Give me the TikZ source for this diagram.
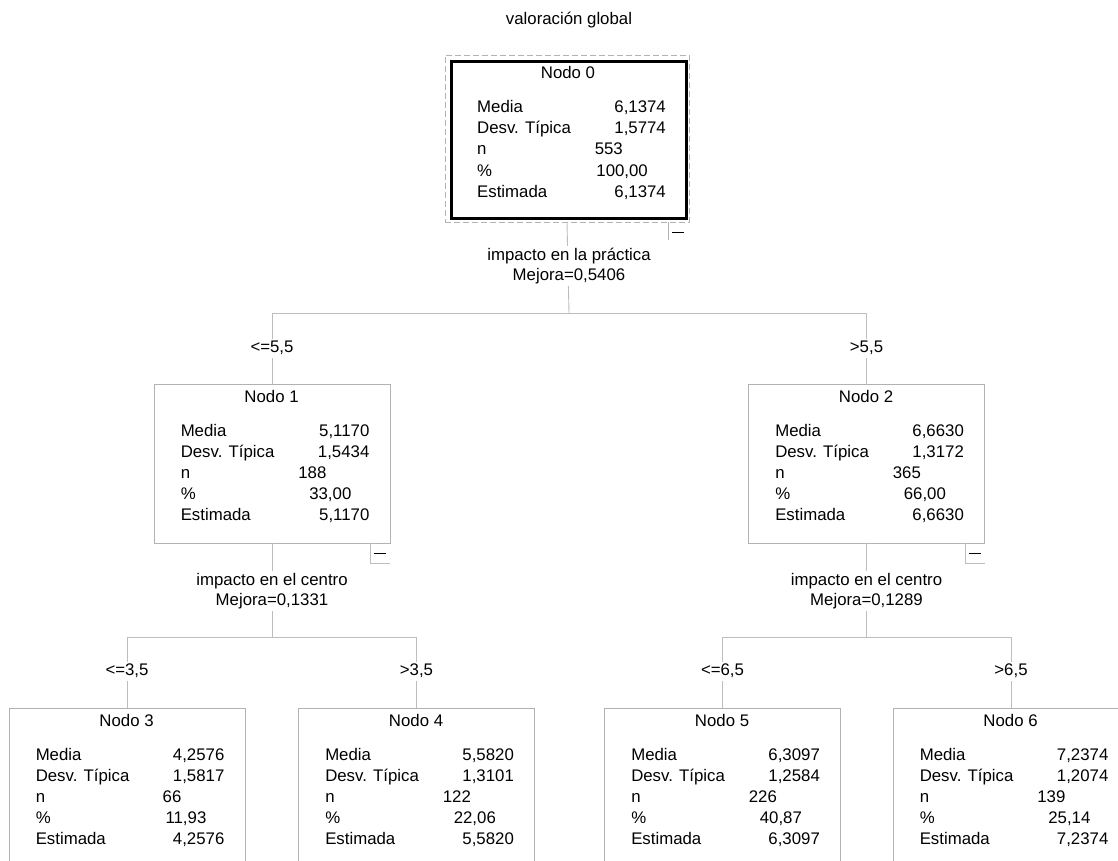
\documentclass[tikz,border=0pt]{standalone}
\usepackage{fontspec}
\setmainfont{Liberation Sans}
\usetikzlibrary{positioning}

\definecolor{edgegray}{gray}{0.74}
\definecolor{boxgray}{gray}{0.70}

\tikzset{
  box/.style={draw=boxgray, line width=0.9pt, minimum width=236pt, minimum height=159pt, inner sep=0pt},
  rootbox/.style={draw=black, line width=3pt, minimum width=235pt, minimum height=157pt, inner sep=0pt},
  focusbox/.style={draw=boxgray, dash pattern=on 6pt off 3pt, line width=0.8pt, minimum width=244pt, minimum height=167pt, inner sep=0pt},
  edge/.style={draw=edgegray, line width=0.9pt},
  cell/.style={inner sep=0pt, text height=12pt, text depth=3pt},
  split/.style={fill=white, align=center, inner sep=2pt},
  cut/.style={fill=white, inner sep=2pt, text height=12pt, text depth=3pt},
}

% rows of a node box: name, title, media, desv, n, pct, estimada
\newcommand{\nodestats}[7]{%
  \begin{scope}[shift={(#1.north west)}]
    \node[cell] (#1-title) at (118,14) {#2};
    \node[cell, anchor=west] (#1-l1) at (27,48.5) {Media};
    \node[cell, anchor=west] (#1-l2) at (27,69.5) {Desv. Típica};
    \node[cell, anchor=west] (#1-l3) at (27,90.5) {n};
    \node[cell, anchor=west] (#1-l4) at (27,111.5) {\%};
    \node[cell, anchor=west] (#1-l5) at (27,132.5) {Estimada};
    \node[cell, anchor=east] (#1-v1) at (216,48.5) {#3};
    \node[cell, anchor=east] (#1-v2) at (216,69.5) {#4};
    \node[cell, anchor=east] (#1-v3) at (173,90.5) {#5};
    \node[cell, anchor=east] (#1-v4) at (198,111.5) {#6};
    \node[cell, anchor=east] (#1-v5) at (216,132.5) {#7};
  \end{scope}}

% collapse mark under a box
\newcommand{\minusbox}[1]{%
  \draw[edge] ([xshift=-20pt]#1.south east) -- ++(0,20) -- ++(20,0);
  \draw[line width=1.6pt] ([xshift=-16pt, yshift=-10pt]#1.south east) -- ++(12,0);}

\begin{document}
\begin{tikzpicture}[x=1pt, y=-1pt, font=\fontsize{16.8}{20.5}\selectfont]
  \clip (0,0) rectangle (1118,861);
  \fill[white] (0,0) rectangle (1118,861);

  \node (title) at (569,20) {valoración global};

  % boxes
  \node[focusbox] (n0f) at (567,138.5) {};
  \node[rootbox] (n0) at (569,140) {};
  \node[box] (n1) at (272,463.5) {};
  \node[box] (n2) at (866.5,463.5) {};
  \node[box] (n3) at (127,787.5) {};
  \node[box] (n4) at (416.5,787.5) {};
  \node[box] (n5) at (722.5,787.5) {};
  \node[box] (n6) at (1011,787.5) {};

  % split points
  \coordinate (s0) at (569,313);
  \coordinate (s1) at (272,637);
  \coordinate (s2) at (866.5,637);

  % connectors
  \draw[edge] (n0f.south) -- (s0);
  \draw[edge] (s0) -| (n1.north);
  \draw[edge] (s0) -| (n2.north);
  \draw[edge] (n1.south) -- (s1);
  \draw[edge] (s1) -| (n3.north);
  \draw[edge] (s1) -| (n4.north);
  \draw[edge] (n2.south) -- (s2);
  \draw[edge] (s2) -| (n5.north);
  \draw[edge] (s2) -| (n6.north);

  \draw[line width=0.8pt, draw=boxgray] ([xshift=-21pt]n0f.south east) -- ++(0,18);
  \draw[line width=1.6pt] ([xshift=-17pt, yshift=-10pt]n0f.south east) -- ++(12,0);
  \minusbox{n1}
  \minusbox{n2}

  % split labels
  \node[split] (q0) at (569,266) {impacto en la práctica\\Mejora=0,5406};
  \node[split] (q1) at (272,591) {impacto en el centro\\Mejora=0,1331};
  \node[split] (q2) at (866.5,591) {impacto en el centro\\Mejora=0,1289};

  % branch labels
  \node[cut] (c1) at (272,348) {<=5,5};
  \node[cut] (c2) at (866.5,348) {>5,5};
  \node[cut] (c3) at (127,671) {<=3,5};
  \node[cut] (c4) at (416.5,671) {>3,5};
  \node[cut] (c5) at (722.5,671) {<=6,5};
  \node[cut] (c6) at (1011,671) {>6,5};

  % contents
  \nodestats{n0}{Nodo 0}{6,1374}{1,5774}{553}{100,00}{6,1374}
  \nodestats{n1}{Nodo 1}{5,1170}{1,5434}{188}{33,00}{5,1170}
  \nodestats{n2}{Nodo 2}{6,6630}{1,3172}{365}{66,00}{6,6630}
  \nodestats{n3}{Nodo 3}{4,2576}{1,5817}{66}{11,93}{4,2576}
  \nodestats{n4}{Nodo 4}{5,5820}{1,3101}{122}{22,06}{5,5820}
  \nodestats{n5}{Nodo 5}{6,3097}{1,2584}{226}{40,87}{6,3097}
  \nodestats{n6}{Nodo 6}{7,2374}{1,2074}{139}{25,14}{7,2374}
\end{tikzpicture}
\end{document}
